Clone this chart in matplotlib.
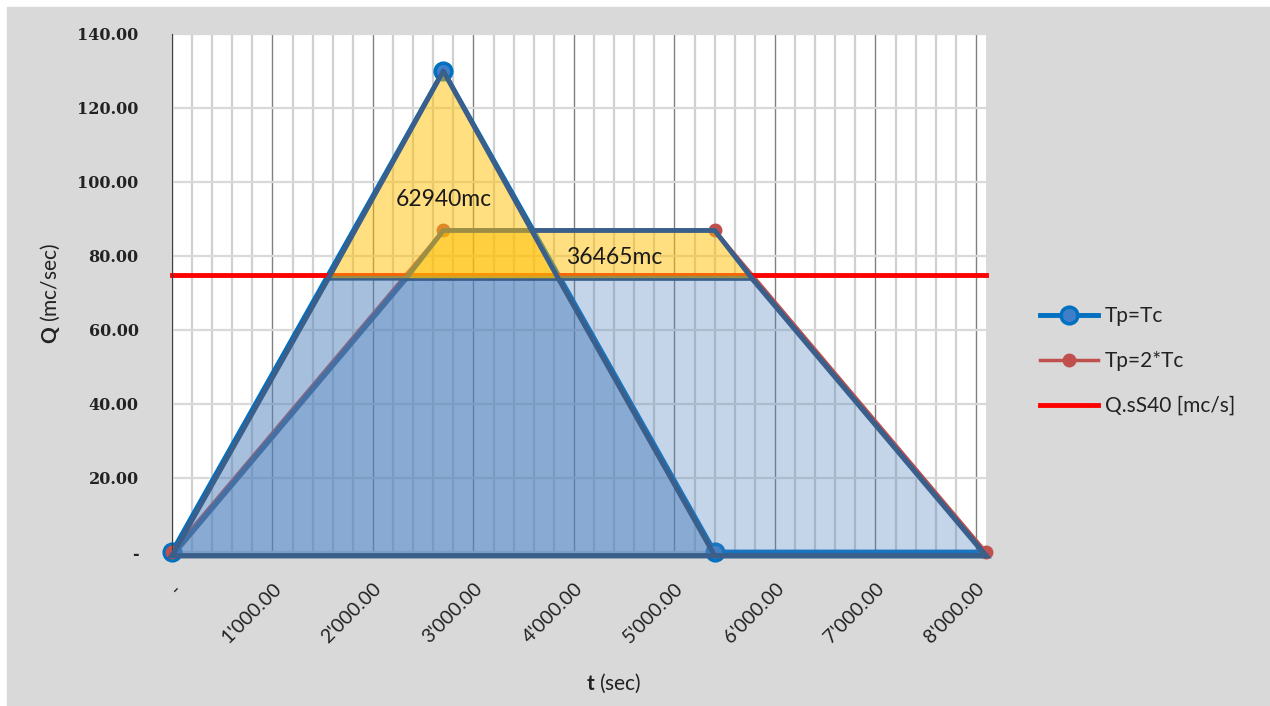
import numpy as np
import matplotlib
matplotlib.use('Agg')
import matplotlib.pyplot as plt
from matplotlib.patches import Rectangle
from matplotlib.ticker import MultipleLocator, FuncFormatter

plt.rcParams['font.family'] = ['Lato', 'DejaVu Sans']
plt.rcParams['mathtext.fontset'] = 'custom'
plt.rcParams['mathtext.rm'] = 'Lato'
plt.rcParams['mathtext.bf'] = 'Lato:bold'

# data
t_tc = [0, 2700, 5400, 8100]
q_tc = [0, 130.0, 0, 0]
t_2tc = [0, 2700, 5400, 8100]
q_2tc = [0, 86.9, 86.9, 0]
q_s40 = 75.0
t_s40 = [0, 8100]
vol_tc = '62940mc'
vol_2tc = '36465mc'
lab_tc = 'Tp=Tc'
lab_2tc = 'Tp=2*Tc'
lab_s40 = 'Q.sS40 [mc/s]'

OUTLINE = '#3A5F8B'
DY = -1.0   # the overlay shapes were drawn by hand, a bit lower than the series


def split_at(x, q, lvl):
    # returns the part under lvl (clipped) and the part above lvl
    lo_x, lo_y, hi_x, hi_y = [], [], [], []
    for i in range(len(x)):
        lo_x.append(x[i]); lo_y.append(min(q[i], lvl))
        if q[i] > lvl:
            hi_x.append(x[i]); hi_y.append(q[i])
        if i < len(x) - 1 and (q[i] - lvl) * (q[i + 1] - lvl) < 0:
            xc = x[i] + (lvl - q[i]) * (x[i + 1] - x[i]) / (q[i + 1] - q[i])
            lo_x.append(xc); lo_y.append(lvl)
            hi_x.append(xc); hi_y.append(lvl + DY)
    return lo_x, lo_y, hi_x, hi_y


fig = plt.figure(figsize=(12.7, 7.06), dpi=100, facecolor='white')
fig.patches.append(Rectangle((7 / 1270, 0), 1, 1 - 7 / 706, transform=fig.transFigure,
                             color='#D9D9D9', zorder=-10))
ax = fig.add_axes([172 / 1270, (706 - 552) / 706, (986 - 172) / 1270, (552 - 34) / 706])
ax.set_facecolor('white')

# grid
ax.set_xlim(0, 8100)
ax.set_ylim(0, 140)
ax.xaxis.set_major_locator(MultipleLocator(1000))
ax.xaxis.set_minor_locator(MultipleLocator(200))
ax.yaxis.set_major_locator(MultipleLocator(20))
ax.grid(which='minor', axis='x', color='#D0D0D0', lw=1.6, zorder=0.5)
ax.grid(which='major', axis='x', color='#808080', lw=1.0, zorder=0.6)
ax.grid(which='major', axis='y', color='#D9D9D9', lw=1.6, zorder=0.5)
ax.set_axisbelow(True)
for s in ['top', 'right', 'bottom']:
    ax.spines[s].set_visible(False)
ax.spines['left'].set_color('#404040')
ax.tick_params(length=0)
ax.tick_params(axis='x', which='minor', length=0)

fmt = FuncFormatter(lambda v, p: '-' if v == 0 else f"{v:,.2f}".replace(',', "'"))
ax.xaxis.set_major_formatter(fmt)
ax.yaxis.set_major_formatter(fmt)
ax.tick_params(axis='y', pad=24, labelsize=11.5)
ax.tick_params(axis='x', pad=20, labelsize=14)
plt.setp(ax.get_yticklabels(), family='DejaVu Serif', weight='bold', color='#222222')
plt.setp(ax.get_xticklabels(), rotation=45, ha='right', va='top', rotation_mode='anchor',
         color='#222222')

ax.set_ylabel(r'$\mathbf{Q}$ (mc/sec)', fontsize=15, color='#222222')
ax.yaxis.set_label_coords(-0.135, 0.5)
ax.set_xlabel(r'$\mathbf{t}$ (sec)', fontsize=15, color='#222222')
ax.xaxis.set_label_coords(0.543, -0.232)

# series (Excel order: first series at the bottom)
ax.plot(t_tc, q_tc, color='#0070C0', lw=3.5, marker='o', ms=12, mfc='#3F7EC8', mec='#0070C0',
        mew=2.5, markevery=[0, 1, 2], zorder=2.0, label=lab_tc, clip_on=False)
ax.plot(t_2tc, q_2tc, color='#C0504D', lw=2.5, marker='o', ms=9, mfc='#C0504D', mec='#C0504D',
        zorder=2.1, label=lab_2tc, clip_on=False)
ax.plot(t_s40, [q_s40, q_s40], color='#FF0000', lw=3.5, zorder=2.2, label=lab_s40, clip_on=False)

# overlay shapes
lo_tc = split_at(t_tc, q_tc, q_s40)
lo_2tc = split_at(t_2tc, q_2tc, q_s40)

ax.fill(lo_2tc[0], np.array(lo_2tc[1]) + DY, facecolor='#4F81BD', alpha=0.33, zorder=3, clip_on=False)
ax.fill(lo_2tc[0], np.array(lo_2tc[1]) + DY, facecolor='none', edgecolor=OUTLINE, lw=3.8,
        zorder=3.1, clip_on=False, joinstyle='miter')
ax.fill(lo_tc[0], np.array(lo_tc[1]) + DY, facecolor='#4F81BD', alpha=0.5, zorder=3.2,
        clip_on=False)
ax.fill(lo_tc[0], np.array(lo_tc[1]) + DY, facecolor='none', edgecolor=OUTLINE, lw=3.5,
        zorder=3.3, clip_on=False, joinstyle='miter')

ax.fill(lo_2tc[2], lo_2tc[3], facecolor='#FFC000', alpha=0.5, edgecolor='none', zorder=4)
ax.plot(lo_2tc[2], lo_2tc[3], color=OUTLINE, lw=3.5, zorder=4.1)
ax.fill(lo_tc[2], lo_tc[3], facecolor='#FFC000', alpha=0.5, edgecolor='none', zorder=5)
ax.plot(lo_tc[2], lo_tc[3], color=OUTLINE, lw=3.5, zorder=5.1)

ax.text(2700, 95.4, vol_tc, fontsize=16.5, ha='center', va='center', color='#1A1A1A', zorder=6)
ax.text(4400, 79.7, vol_2tc, fontsize=16.5, ha='center', va='center', color='#1A1A1A', zorder=6)

h, l = ax.get_legend_handles_labels()
leg = fig.legend(h, l, loc='center left', bbox_to_anchor=(1040 / 1270, (706 - 361) / 706),
                 frameon=False, fontsize=15, handlelength=2.8, handletextpad=0.3,
                 labelspacing=1.2, borderpad=0, borderaxespad=0)
for txt in leg.get_texts():
    txt.set_color('#222222')

fig.savefig('out.png', dpi=100)
